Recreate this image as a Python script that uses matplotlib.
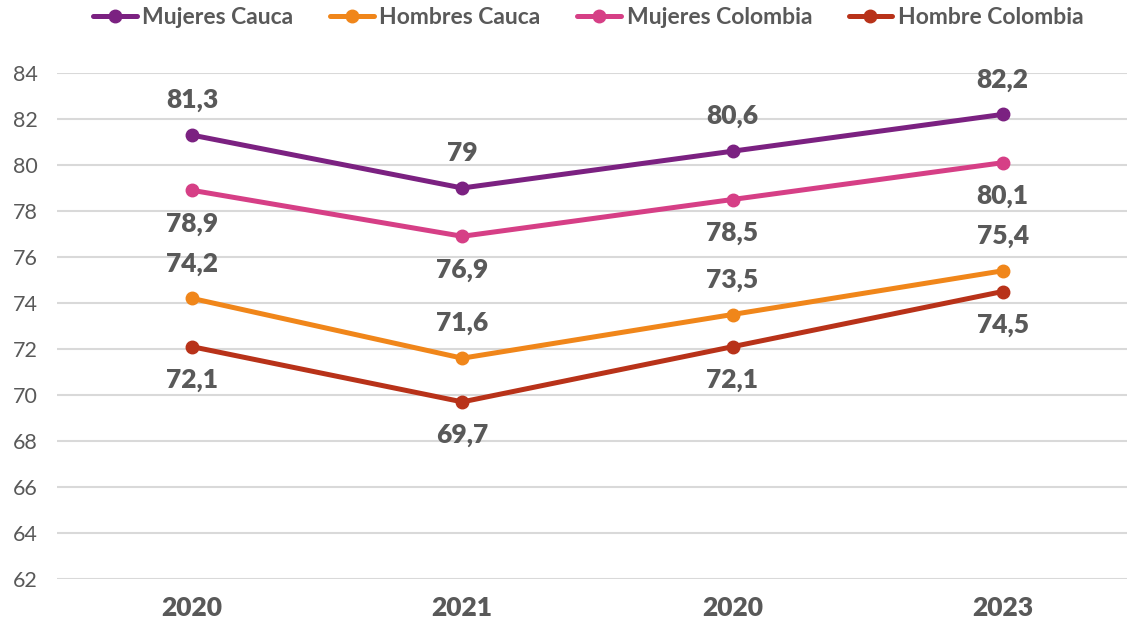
import numpy as np
import matplotlib
matplotlib.use("Agg")
import matplotlib.pyplot as plt

plt.rcParams['font.family'] = ['Lato', 'DejaVu Sans']

years = ['2020', '2021', '2020', '2023']
mujeres_cauca = [81.3, 79.0, 80.6, 82.2]
hombres_cauca = [74.2, 71.6, 73.5, 75.4]
mujeres_colombia = [78.9, 76.9, 78.5, 80.1]
hombre_colombia = [72.1, 69.7, 72.1, 74.5]

series = [
    ('Mujeres Cauca', mujeres_cauca, '#7B2181', ['above'] * 4),
    ('Hombres Cauca', hombres_cauca, '#F0861A', ['above'] * 4),
    ('Mujeres Colombia', mujeres_colombia, '#D63F86', ['below'] * 4),
    ('Hombre Colombia', hombre_colombia, '#B83219', ['below'] * 4),
]

gray = '#595959'
fig = plt.figure(figsize=(11.27, 6.3), dpi=100)
ax = fig.add_axes([57 / 1127, 51 / 630, 1 - 57 / 1127, 506 / 630])

x = np.arange(len(years))
for name, vals, col, pos in series:
    ax.plot(x, vals, '-o', color=col, lw=3.6, ms=9, label=name,
            solid_capstyle='round', zorder=3)
    for xi, v, p in zip(x, vals, pos):
        off = 25 if p == 'above' else -24
        lab = ('%g' % v).replace('.', ',')
        ax.annotate(lab, (xi, v), xytext=(0, off), textcoords='offset points',
                    ha='center', va='center', fontsize=19, fontweight='heavy',
                    color=gray)

ax.set_ylim(62, 84)
ax.set_xlim(-0.5, 3.46)
ax.set_yticks(np.arange(62, 85, 2))
ax.set_xticks(x)
ax.set_xticklabels(years, fontsize=19, fontweight='heavy', color=gray)
ax.tick_params(axis='y', labelsize=15.5, labelcolor=gray, length=0, pad=14)
ax.tick_params(axis='x', length=0, pad=12)
ax.grid(axis='y', color='#D9D9D9', lw=1.5)
ax.set_axisbelow(True)
for s in ax.spines.values():
    s.set_visible(False)

leg = fig.legend(loc='upper center', bbox_to_anchor=(0.522, 1.022), ncol=4,
                 frameon=False, fontsize=16.5, handlelength=1.9,
                 columnspacing=1.6, handletextpad=0.25)
for t in leg.get_texts():
    t.set_color(gray)
    t.set_fontweight('bold')

fig.savefig('out.png', dpi=100)
